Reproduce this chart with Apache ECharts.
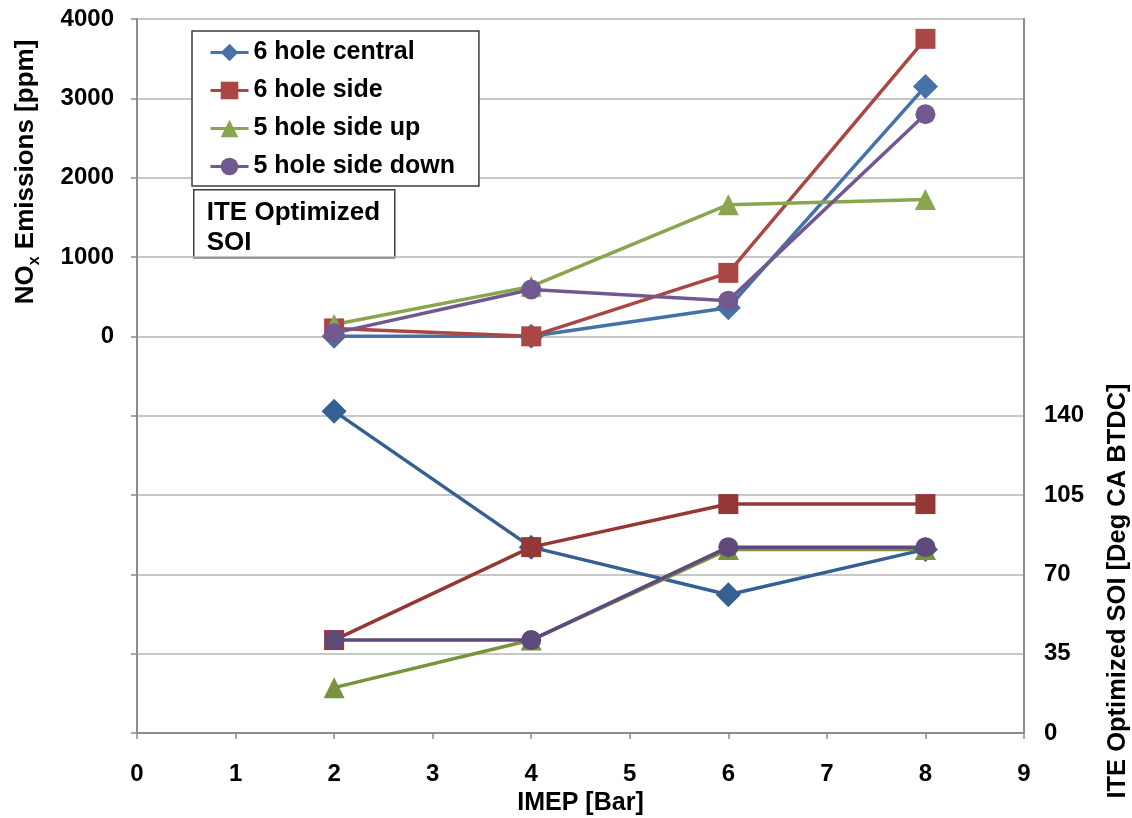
<!DOCTYPE html>
<html>
<head>
<meta charset="utf-8">
<script src="https://cdn.jsdelivr.net/npm/echarts@6/dist/echarts.min.js"></script>
<style>
  html, body { margin: 0; padding: 0; background: #ffffff; }
  #chart { width: 1132px; height: 818px; }
</style>
</head>
<body>
<div id="chart"></div>
<script>
// IMEP load points [bar]
const imep = [2, 4, 6, 8];

// Injector configurations
const seriesNames = ['6 hole central', '6 hole side', '5 hole side up', '5 hole side down'];

// NOx emissions [ppm] (left axis)
const noxCentral6 = [0, 0, 360, 3150];
const noxSide6 = [100, 0, 800, 3750];
const noxSideUp5 = [150, 630, 1660, 1725];
const noxSideDown5 = [40, 590, 450, 2800];

// ITE optimized start of injection [deg CA BTDC] (right axis)
const soiCentral6 = [142, 82, 61, 81];
const soiSide6 = [41, 82, 101, 101];
const soiSideUp5 = [20, 41, 81, 81];
const soiSideDown5 = [41, 41, 82, 82];

// Tick labels actually printed on each value axis
const noxTickLabels = [0, 1000, 2000, 3000, 4000];
const soiTickLabels = [0, 35, 70, 105, 140];
const imepTickLabels = [0, 1, 2, 3, 4, 5, 6, 7, 8, 9];

const FONT = '"Liberation Sans", Arial, Helvetica, sans-serif';
const noxColors = ['#4572A7', '#AA4643', '#89A54E', '#71588F'];
const soiColors = ['#376092', '#953735', '#77933C', '#5F497A'];
const symbols = ['diamond', 'rect', 'triangle', 'circle'];
const symbolSizes = [25, 20, 21, 20];

const noxSets = [noxCentral6, noxSide6, noxSideUp5, noxSideDown5];
const soiSets = [soiCentral6, soiSide6, soiSideUp5, soiSideDown5];

const toPairs = (ys) => imep.map((x, i) => [x, ys[i]]);

function makeSeries(sets, colors, axisIndex) {
  return sets.map((ys, i) => ({
    type: 'line',
    name: seriesNames[i],
    yAxisIndex: axisIndex,
    data: toPairs(ys),
    symbol: symbols[i],
    symbolSize: symbolSizes[i],
    lineStyle: { width: 3.5, color: colors[i] },
    itemStyle: { color: colors[i] },
    emphasis: { disabled: true },
    animation: false
  }));
}

const axisGray = '#8c8c8c';
const gridGray = '#b4b4b4';
const tickFont = { color: '#000', fontFamily: FONT, fontWeight: 'bold', fontSize: 24 };

const option = {
  backgroundColor: '#ffffff',
  animation: false,
  grid: { left: 137, right: 108, top: 19, bottom: 85, containLabel: false, outerBoundsMode: 'none' },
  legend: {
    orient: 'vertical',
    left: 192,
    top: 31,
    data: seriesNames,
    selectedMode: false,
    backgroundColor: '#ffffff',
    borderColor: '#3c3c3c',
    borderWidth: 1.5,
    padding: [9, 24, 7, 17],
    itemWidth: 38,
    itemHeight: 22,
    itemGap: 13,
    lineStyle: { width: 3 },
    textStyle: { color: '#000', fontFamily: FONT, fontWeight: 'bold', fontSize: 25, lineHeight: 25 }
  },
  xAxis: {
    type: 'value',
    min: 0,
    max: 9,
    interval: 1,
    name: 'IMEP [Bar]',
    nameLocation: 'middle',
    nameGap: 55,
    nameTextStyle: { color: '#000', fontFamily: FONT, fontWeight: 'bold', fontSize: 25 },
    axisLine: { show: true, onZero: false, lineStyle: { color: axisGray, width: 2 } },
    axisTick: { show: true, inside: false, length: 6, lineStyle: { color: axisGray, width: 1.5 } },
    axisLabel: Object.assign({ margin: 29, formatter: (v) => imepTickLabels.includes(v) ? String(v) : '' }, tickFont),
    splitLine: { show: false }
  },
  yAxis: [
    {
      type: 'value',
      position: 'left',
      min: -5000,
      max: 4000,
      interval: 1000,
      axisLine: { show: true, onZero: false, lineStyle: { color: axisGray, width: 2 } },
      axisTick: { show: true, inside: false, length: 6, lineStyle: { color: axisGray, width: 1.5 } },
      axisLabel: Object.assign({ margin: 23, formatter: (v) => noxTickLabels.includes(v) ? String(v) : '' }, tickFont),
      splitLine: { show: true, lineStyle: { color: gridGray, width: 1.5 } }
    },
    {
      type: 'value',
      position: 'right',
      min: 0,
      max: 315,
      interval: 35,
      axisLine: { show: true, onZero: false, lineStyle: { color: axisGray, width: 2 } },
      axisTick: { show: false },
      axisLabel: Object.assign({ margin: 20, formatter: (v) => soiTickLabels.includes(v) ? String(v) : '' }, tickFont),
      splitLine: { show: false }
    }
  ],
  graphic: [
    {
      type: 'text',
      x: 26,
      y: 172,
      rotation: Math.PI / 2,
      style: {
        text: 'NO{sub|x} Emissions [ppm]',
        fill: '#000',
        fontFamily: FONT,
        fontWeight: 'bold',
        fontSize: 26,
        lineHeight: 34,
        align: 'center',
        verticalAlign: 'middle',
        rich: {
          sub: { fontFamily: FONT, fontWeight: 'bold', fontSize: 16, lineHeight: 16, verticalAlign: 'bottom', fill: '#000' }
        }
      }
    },
    {
      type: 'text',
      x: 1118,
      y: 591,
      rotation: Math.PI / 2,
      style: {
        text: 'ITE Optimized SOI [Deg CA BTDC]',
        fill: '#000',
        fontFamily: FONT,
        fontWeight: 'bold',
        fontSize: 25.5,
        align: 'center',
        verticalAlign: 'middle'
      }
    },
    {
      type: 'group',
      left: 193,
      top: 189,
      z: 100,
      children: [
        {
          type: 'rect',
          shape: { x: 0, y: 0, width: 201, height: 68 },
          style: { fill: '#ffffff', stroke: '#3c3c3c', lineWidth: 1.5 }
        },
        {
          type: 'text',
          x: 13,
          y: 8,
          style: {
            text: 'ITE Optimized\nSOI',
            fill: '#000',
            fontFamily: FONT,
            fontWeight: 'bold',
            fontSize: 26,
            lineHeight: 30
          }
        }
      ]
    }
  ],
  series: makeSeries(noxSets, noxColors, 0).concat(makeSeries(soiSets, soiColors, 1))
};

const chart = echarts.init(document.getElementById('chart'));
chart.setOption(option);
</script>
</body>
</html>
